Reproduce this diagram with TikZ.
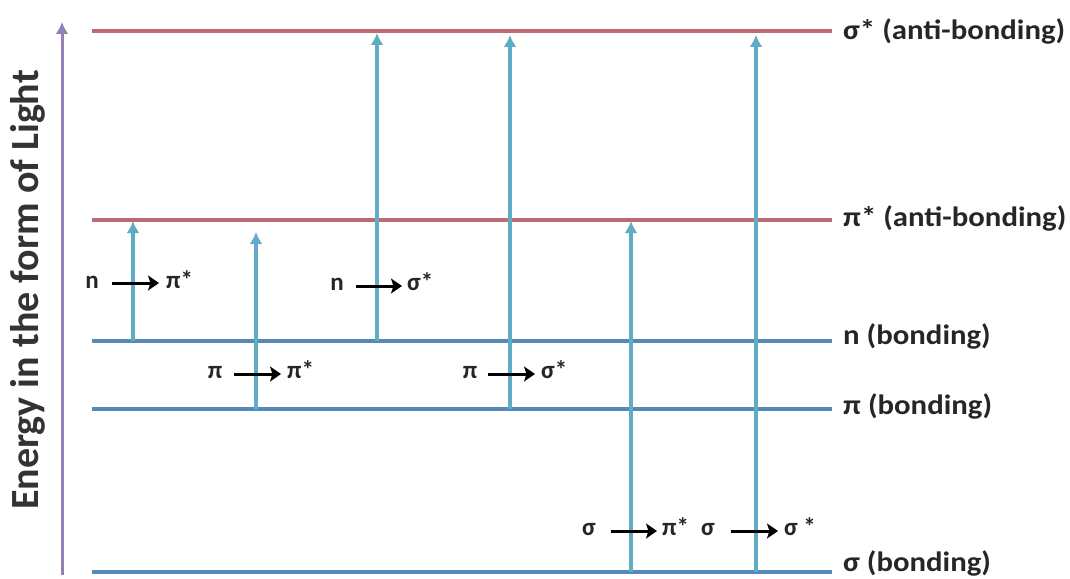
\documentclass[tikz,border=0pt]{standalone}
\usepackage{fontspec}
\setmainfont{Carlito}
\usetikzlibrary{arrows.meta}
\definecolor{antired}{RGB}{188,108,112}
\definecolor{bondblue}{RGB}{88,136,182}
\definecolor{transteal}{RGB}{96,172,196}
\definecolor{axispurple}{RGB}{146,128,180}
\newcommand{\wlab}[1]{\scalebox{1.1}[1]{#1}}
\tikzset{
  antilevel/.style={draw=antired,line width=3.4pt},
  bondlevel/.style={draw=bondblue,line width=3.4pt},
  levellabel/.style={anchor=west,font=\fontsize{28}{30}\selectfont\bfseries,text=black!85,inner sep=0pt},
  transarrow/.style={draw=transteal,line width=3.2pt,-{Latex[length=12pt,width=13pt]}},
  txtl/.style={anchor=base,font=\fontsize{25}{28}\selectfont\bfseries,text=black!85,inner sep=0pt},
  txtr/.style={anchor=base west,font=\fontsize{25}{28}\selectfont\bfseries,text=black!85,inner sep=0pt},
  blackarrow/.style={draw=black,line width=3pt,-{Stealth[length=11pt,width=15pt,inset=2.5pt]}},
}
\begin{document}
\begin{tikzpicture}[x=1pt,y=-1pt]
\useasboundingbox (0,0) rectangle (1070,578);
% axis
\coordinate (axb) at (62,575);
\coordinate (axt) at (62,22);
\draw[draw=axispurple,line width=3pt,-{Latex[length=12pt,width=13pt]}] (axb) -- (axt);
\node[font=\fontsize{40}{44}\selectfont\bfseries,text=black!80,rotate=90] (axlabel) at (28,290) {Energy in the form of Light};
% levels
\coordinate (ssL) at (92,31); \coordinate (ssR) at (832,31);
\coordinate (psL) at (92,220); \coordinate (psR) at (832,220);
\coordinate (nL) at (92,341); \coordinate (nR) at (832,341);
\coordinate (pL) at (92,409); \coordinate (pR) at (832,409);
\coordinate (sL) at (92,572); \coordinate (sR) at (832,572);
\draw[antilevel] (ssL) -- (ssR);
\draw[antilevel] (psL) -- (psR);
\draw[bondlevel] (nL) -- (nR);
\draw[bondlevel] (pL) -- (pR);
\draw[bondlevel] (sL) -- (sR);
\node[levellabel] (lss) at (843,31) {\wlab{σ* (anti-bonding)}};
\node[levellabel] (lps) at (843,218) {\wlab{π* (anti-bonding)}};
\node[levellabel] (ln) at (843,336) {\wlab{n (bonding)}};
\node[levellabel] (lp) at (843,406) {\wlab{π (bonding)}};
\node[levellabel] (ls) at (843,563) {\wlab{σ (bonding)}};
% transitions
\coordinate (t1s) at (133,341); \coordinate (t1e) at (133,221);
\coordinate (t2s) at (256,409); \coordinate (t2e) at (256,232);
\coordinate (t3s) at (377,341); \coordinate (t3e) at (377,33);
\coordinate (t4s) at (510,409); \coordinate (t4e) at (510,35);
\coordinate (t5s) at (631,572); \coordinate (t5e) at (631,221);
\coordinate (t6s) at (756,572); \coordinate (t6e) at (756,35);
\draw[transarrow] (t1s) -- (t1e);
\draw[transarrow] (t2s) -- (t2e);
\draw[transarrow] (t3s) -- (t3e);
\draw[transarrow] (t4s) -- (t4e);
\draw[transarrow] (t5s) -- (t5e);
\draw[transarrow] (t6s) -- (t6e);
% labels
\node[txtl] (a1) at (92,288) {n};
\node[txtr] (b1) at (166,288) {π*};
\coordinate (c1s) at (112,283); \coordinate (c1e) at (159,283);
\draw[blackarrow] (c1s) -- (c1e);

\node[txtl] (a2) at (337,290) {n};
\node[txtr] (b2) at (407,290) {σ*};
\coordinate (c2s) at (356,286); \coordinate (c2e) at (402,286);
\draw[blackarrow] (c2s) -- (c2e);

\node[txtl] (a3) at (215,378) {π};
\node[txtr] (b3) at (287,378) {π*};
\coordinate (c3s) at (234,374); \coordinate (c3e) at (281,374);
\draw[blackarrow] (c3s) -- (c3e);

\node[txtl] (a4) at (470,378) {π};
\node[txtr] (b4) at (541,378) {σ*};
\coordinate (c4s) at (488,374); \coordinate (c4e) at (535,374);
\draw[blackarrow] (c4s) -- (c4e);

\node[txtl] (a5) at (589,535) {σ};
\node[txtr] (b5) at (662,535) {π*};
\coordinate (c5s) at (611,531); \coordinate (c5e) at (657,531);
\draw[blackarrow] (c5s) -- (c5e);

\node[txtl] (a6) at (708,535) {σ};
\node[txtr] (b6) at (784,535) {σ *};
\coordinate (c6s) at (731,531); \coordinate (c6e) at (778,531);
\draw[blackarrow] (c6s) -- (c6e);
\end{tikzpicture}
\end{document}
